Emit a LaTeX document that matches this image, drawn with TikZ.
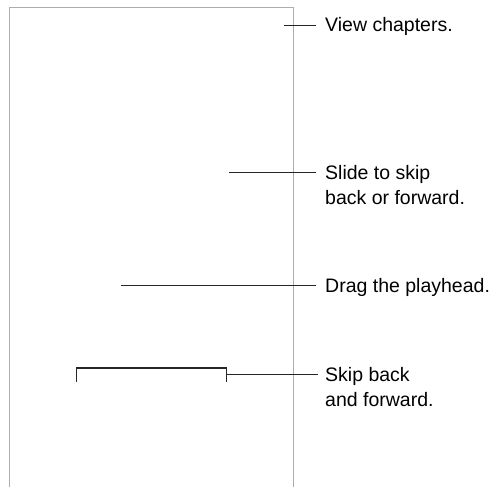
\documentclass[tikz,border=0pt]{standalone}
\usepackage{fontspec}
\setmainfont{Liberation Sans}
\begin{document}
\begin{tikzpicture}[x=1pt,y=-1pt,
  lbl/.style={anchor=base west,inner sep=0pt,align=left,font=\fontsize{19.5}{25}\selectfont,text=black},
  lead/.style={draw=black!85,line width=1.5pt},
  frame/.style={draw=black!32,line width=1pt}]
\useasboundingbox (0,0) rectangle (493,487);
\draw[frame] (9.5,487) -- (9.5,7.5) -- (293.5,7.5) -- (293.5,487);
% labels (multi-line nodes: base is the last line)
\node[lbl] (t1) at (325,32) {View chapters.};
\node[lbl] (t2) at (325,204.5) {Slide to skip\\back or forward.};
\node[lbl] (t3) at (325,292) {Drag the playhead.};
\node[lbl] (t4) at (325,406) {Skip back\\and forward.};
% leader coordinates
\coordinate (a1) at (284,25.5);
\coordinate (b1) at (316,25.5);
\coordinate (a2) at (229,172.5);
\coordinate (b2) at (316,172.5);
\coordinate (a3) at (121,285.5);
\coordinate (b3) at (316,285.5);
\coordinate (bl) at (76.5,382);
\coordinate (blt) at (76.5,368);
\coordinate (brt) at (226.5,368);
\coordinate (br) at (226.5,382);
\coordinate (a4) at (226.5,374.5);
\coordinate (b4) at (318,374.5);
\draw[lead] (a1) -- (b1);
\draw[lead] (a2) -- (b2);
\draw[lead] (a3) -- (b3);
\draw[lead] (bl) -- (blt) -- (brt) -- (br);
\draw[lead] (a4) -- (b4);
\end{tikzpicture}
\end{document}
